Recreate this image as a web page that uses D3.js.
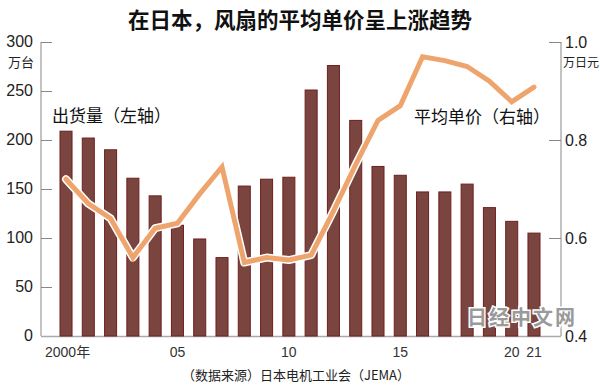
<!DOCTYPE html>
<html><head><meta charset="utf-8">
<script src="https://cdn.jsdelivr.net/npm/d3@7"></script>
<style>
body{margin:0;background:#fff;}
svg{display:block;}
text{font-family:"Liberation Sans Narrow","Liberation Sans","Noto Sans CJK SC",sans-serif;}
.cjk{font-family:"Noto Sans CJK SC",sans-serif;}
</style></head>
<body>
<script>
const years = d3.range(2000, 2022);
const shipments = [209,202,190,161,143,113,99,80,153,160,162,251,276,220,173,164,147,147,155,131,117,105];
const unitPrice = [0.72,0.67,0.64,0.56,0.62,0.63,0.69,0.745,0.55,0.56,0.555,0.565,0.655,0.75,0.84,0.87,0.97,0.962,0.95,0.92,0.878,0.908];
const leftTicks = [0,50,100,150,200,250,300];
const rightTicks = [0.4,0.6,0.8,1.0];
const xLabels = {2000:"2000年",2005:"05",2010:"10",2015:"15",2020:"20",2021:"21"};

const W=600,H=392;
const svg=d3.select("body").append("svg").attr("width",W).attr("height",H);
const x=d3.scaleBand().domain(years).range([60,540]).paddingInner(0.46).paddingOuter(0.0);
const yL=d3.scaleLinear().domain([0,300]).range([336,42]);
const yR=d3.scaleLinear().domain([0.4,1.0]).range([336,42]);

svg.append("text").attr("class","cjk").attr("x",300).attr("y",28).attr("text-anchor","middle")
  .attr("font-size",21.5).attr("font-weight","bold").attr("fill","#111").text("在日本，风扇的平均单价呈上涨趋势");

// axes
const axL=svg.append("g").attr("transform","translate(41,0)")
  .call(d3.axisRight(yL).tickValues(leftTicks).tickSize(11).tickFormat(""));
axL.select(".domain").attr("stroke","#888").attr("d","M0,42V336");
axL.selectAll(".tick line").attr("stroke","#888");
leftTicks.forEach(t=>svg.append("text").attr("x",33).attr("y",yL(t)+5).attr("text-anchor","end")
  .attr("font-size",16).attr("fill","#222").text(t));
svg.append("text").attr("class","cjk").attr("x",8).attr("y",67).attr("font-size",13).attr("fill","#222").text("万台");

const axR=svg.append("g").attr("transform","translate(561,0)")
  .call(d3.axisLeft(yR).tickValues(rightTicks).tickSize(12).tickFormat(""));
axR.select(".domain").attr("stroke","#888").attr("d","M0,42V336");
axR.selectAll(".tick line").attr("stroke","#888");
rightTicks.forEach(t=>svg.append("text").attr("x",565).attr("y",yR(t)+6).attr("text-anchor","start")
  .attr("font-size",16).attr("fill","#222").text(d3.format(".1f")(t)));
svg.append("text").attr("class","cjk").attr("x",563).attr("y",67).attr("font-size",12).attr("fill","#222").text("万日元");

// baseline
svg.append("line").attr("x1",41).attr("x2",561).attr("y1",336.5).attr("y2",336.5).attr("stroke","#aaa").attr("stroke-width",1.5);

// bars
svg.append("g").selectAll("rect").data(years).join("rect")
  .attr("x",d=>x(d)).attr("width",x.bandwidth())
  .attr("y",(d,i)=>yL(shipments[i])).attr("height",(d,i)=>yL(0)-yL(shipments[i]))
  .attr("fill","#7b453f").attr("stroke","#6e1f1f").attr("stroke-width",1);

// line
const line=d3.line().x((d,i)=>x(years[i])+x.bandwidth()/2).y(d=>yR(d));
svg.append("path").datum(unitPrice).attr("d",line).attr("fill","none")
  .attr("stroke","#fff").attr("stroke-width",8).attr("stroke-linecap","round").attr("stroke-linejoin","round");
svg.append("path").datum(unitPrice).attr("d",line).attr("fill","none")
  .attr("stroke","#eea46d").attr("stroke-width",5).attr("stroke-linecap","round").attr("stroke-linejoin","miter");

// labels
svg.append("text").attr("class","cjk").attr("x",52).attr("y",122).attr("font-size",17).attr("fill","#111").text("出货量（左轴）");
svg.append("text").attr("class","cjk").attr("x",414).attr("y",123).attr("font-size",17).attr("fill","#111").text("平均单价（右轴）");

// x labels
years.forEach(yv=>{
  if(xLabels[yv]===undefined) return;
  const cx=x(yv)+x.bandwidth()/2;
  svg.append("text").attr("x", yv===2000? cx-21 : cx).attr("y",357)
    .attr("text-anchor", yv===2000?"start":"middle").attr("font-size",14).attr("fill","#333").text(xLabels[yv]);
});

svg.append("text").attr("class","cjk").attr("x",296).attr("y",380).attr("text-anchor","middle")
  .attr("font-size",13).attr("fill","#222").text("（数据来源）日本电机工业会（JEMA）");

// watermark
svg.append("text").attr("class","cjk").attr("x",467).attr("y",325).attr("font-size",20).attr("font-weight","bold")
  .attr("fill","#9a9a9a").attr("stroke","#fff").attr("stroke-width",3).attr("paint-order","stroke")
  .attr("letter-spacing",2).text("日经中文网");
</script>
</body></html>
